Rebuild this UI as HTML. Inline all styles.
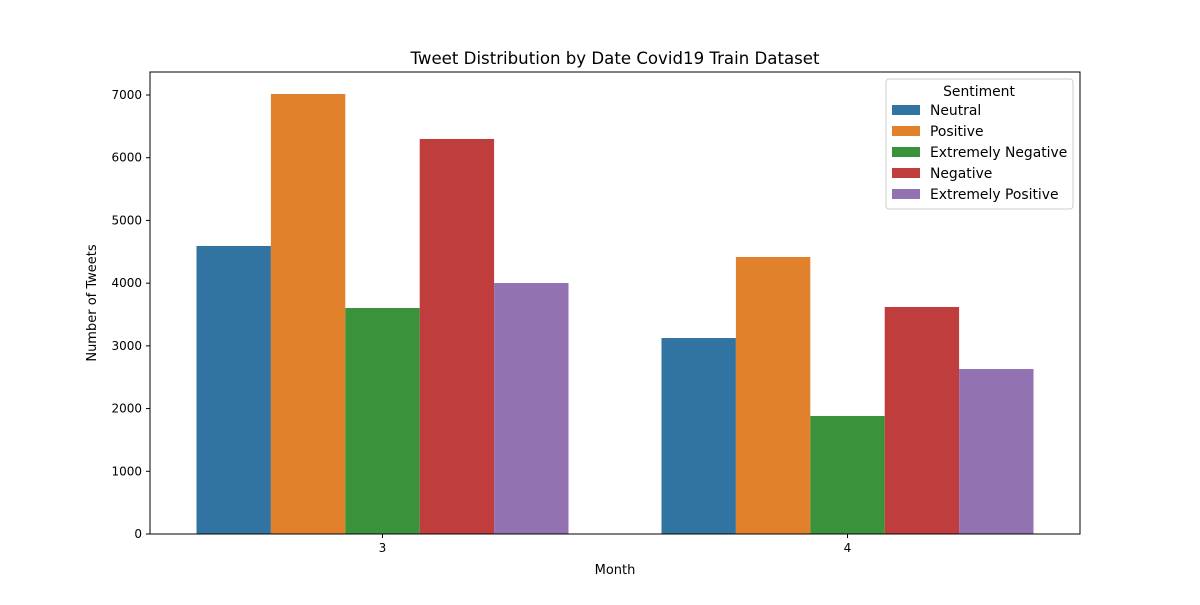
<!DOCTYPE html>
<html><head><meta charset="utf-8"><style>
body{margin:0;background:#fff;font-family:"Liberation Sans","DejaVu Sans",sans-serif;}
svg text{font-family:"DejaVu Sans","Liberation Sans",sans-serif;}
</style></head><body>
<svg id="chart" width="1200" height="600" xmlns="http://www.w3.org/2000/svg"></svg>
<script>
const months = ["3", "4"];
const sentiments = ["Neutral", "Positive", "Extremely Negative", "Negative", "Extremely Positive"];
const colors = ["#3274a1", "#e1812c", "#3a923a", "#c03d3e", "#9372b2"];
const neutralVals = [4593, 3125];
const positiveVals = [7016, 4417];
const extNegVals = [3604, 1882];
const negativeVals = [6299, 3620];
const extPosVals = [4002, 2631];
const yTicks = [0, 1000, 2000, 3000, 4000, 5000, 6000, 7000];
const series = [neutralVals, positiveVals, extNegVals, negativeVals, extPosVals];

const svg = document.getElementById('chart');
const NS = 'http://www.w3.org/2000/svg';
const L = 150, R = 1080, T = 72, B = 534, yMax = 7367;
const y = v => B - v / yMax * (B - T);
const groupW = (R - L) / months.length;
const xc = i => L + groupW * (i + 0.5);
const barW = groupW * 0.8 / sentiments.length;
function el(tag, attrs, parent) {
  const e = document.createElementNS(NS, tag);
  for (const k in attrs) e.setAttribute(k, attrs[k]);
  (parent || svg).appendChild(e);
  return e;
}
function txt(s, attrs) { const t = el('text', attrs); t.textContent = s; return t; }

series.forEach((vals, si) => {
  vals.forEach((v, mi) => {
    const x = xc(mi) - groupW * 0.4 + si * barW;
    const r = el('rect', {x: x, y: y(v), width: barW, height: B - y(v), fill: colors[si]});
    
    
  });
});

const frame = el('rect', {x: L, y: T, width: R - L, height: B - T, fill: 'none', stroke: '#000', 'stroke-width': 1});



yTicks.forEach(v => {
  const tk = el('line', {x1: L - 4, x2: L, y1: y(v), y2: y(v), stroke: '#000'});
  
  
  const t = txt(String(v), {x: L - 8, y: y(v) + 4, 'text-anchor': 'end', 'font-size': 12});
  
  
});
months.forEach((m, i) => {
  const tk = el('line', {x1: xc(i), x2: xc(i), y1: B, y2: B + 4, stroke: '#000'});
  
  
  const t = txt(m, {x: xc(i), y: B + 18, 'text-anchor': 'middle', 'font-size': 12});
  
  
});

const title = txt('Tweet Distribution by Date Covid19 Train Dataset', {x: (L + R) / 2, y: 64, 'text-anchor': 'middle', 'font-size': 16.6});


const xt = txt('Month', {x: (L + R) / 2, y: 574, 'text-anchor': 'middle', 'font-size': 13});


const yt = txt('Number of Tweets', {x: 0, y: 0, 'text-anchor': 'middle', 'font-size': 13, transform: 'translate(96,303) rotate(-90)'});



const lg = el('g', {});


el('rect', {x: 886, y: 79, width: 187, height: 130, fill: '#fff', 'fill-opacity': 0.8, stroke: '#ccc', rx: 3}, lg);
const lt = el('text', {x: 979, y: 96, 'text-anchor': 'middle', 'font-size': 13.9}, lg);
lt.textContent = 'Sentiment';
sentiments.forEach((s, i) => {
  const g = el('g', {}, lg);
  
  
  el('rect', {x: 892, y: 105 + i * 21, width: 28, height: 10, fill: colors[i]}, g);
  const t = el('text', {x: 930, y: 115 + i * 21, 'font-size': 13.9}, g);
  t.textContent = s;
});
</script>
</body></html>
